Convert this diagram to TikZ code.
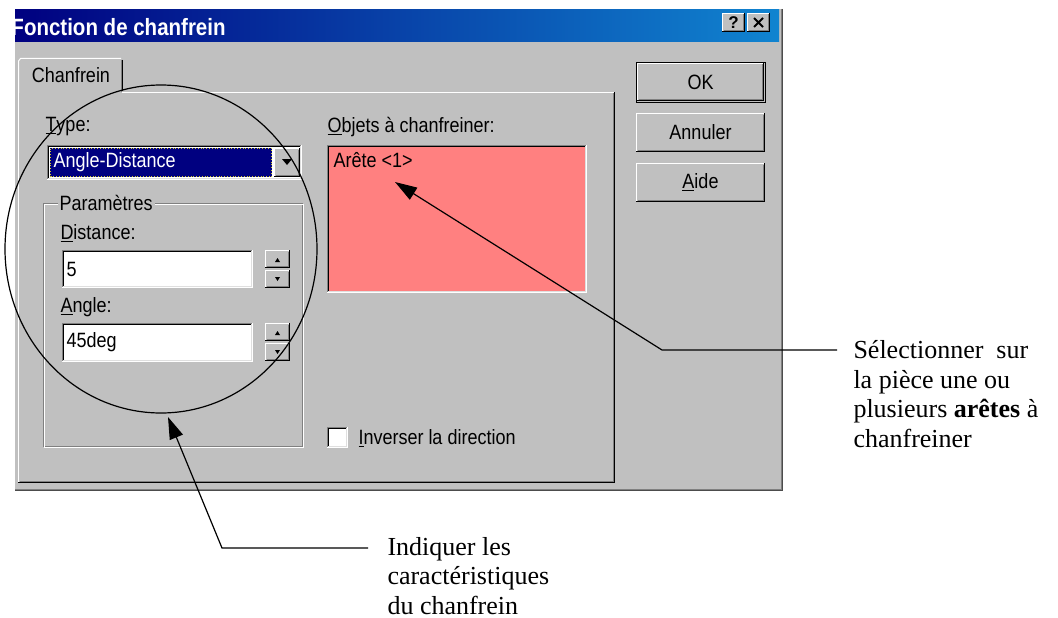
\documentclass[tikz,border=0pt]{standalone}
\usepackage{fontspec}
\setmainfont{Liberation Serif}
\newfontfamily\uifont{Liberation Sans}
\usetikzlibrary{arrows.meta,shapes.geometric}
\definecolor{wgray}{HTML}{C0C0C0}
\definecolor{wdark}{HTML}{808080}
\definecolor{wlite}{HTML}{DFDFDF}
\definecolor{wnavy}{HTML}{000080}
\definecolor{wblue}{HTML}{1084D0}
\definecolor{wpink}{HTML}{FF8080}
\newcommand\wraised[4]{%
  \fill[wgray] (#1,#2) rectangle (#3,#4);
  \draw[white] (#1+0.5,#4-1) -- (#1+0.5,#2+0.5) -- (#3-1,#2+0.5);
  \draw[wdark] (#1+1.5,#4-1.5) -- (#3-1.5,#4-1.5) -- (#3-1.5,#2+1.5);
  \draw[black] (#1,#4-0.5) -- (#3-0.5,#4-0.5) -- (#3-0.5,#2);
}
\newcommand\wsunken[5]{%
  \fill[#5] (#1,#2) rectangle (#3,#4);
  \draw[wdark] (#1+0.5,#4) -- (#1+0.5,#2+0.5) -- (#3,#2+0.5);
  \draw[black] (#1+1.5,#4-1) -- (#1+1.5,#2+1.5) -- (#3-1,#2+1.5);
  \draw[white] (#1,#4-0.5) -- (#3-0.5,#4-0.5) -- (#3-0.5,#2);
  \draw[wlite] (#1+1,#4-1.5) -- (#3-1.5,#4-1.5) -- (#3-1.5,#2+1);
}
\newcommand\ut[1]{\scalebox{1}[1.15]{#1}}
\tikzset{
  ui/.style={font=\uifont\fontsize{18}{21}\selectfont, inner sep=0pt, text=black},
  annot/.style={font=\fontsize{26}{29.5}\selectfont, align=left, inner sep=0pt, anchor=base west},
  pointer/.style={line width=1.2pt, -{Triangle[length=22pt,width=14pt]}},
}
\begin{document}
\begin{tikzpicture}[x=1pt,y=-1pt,line width=1pt]
\useasboundingbox (0,0) rectangle (1058,618);
\fill[white] (0,0) rectangle (1058,618);
% dialog body
\fill[wgray] (15,9) rectangle (783,491);
\draw[wdark] (781.5,9) -- (781.5,489.5) -- (15,489.5);
\draw[black!70] (782.5,9) -- (782.5,490.5) -- (15,490.5);
% title bar
\shade[left color=wnavy, right color=wblue] (15,10) rectangle (779,42);
\begin{scope}
  \clip (15,10) rectangle (779,42);
  \node[anchor=west, inner sep=0pt, text=white, font=\uifont\bfseries\fontsize{20.5}{22}\selectfont] (title) at (11,27) {\ut{Fonction de chanfrein}};
\end{scope}
\wraised{722}{13}{745}{32}
\node[font=\uifont\bfseries\fontsize{17}{18}\selectfont, inner sep=0pt] (help) at (733.5,22.5) {?};
\wraised{747}{13}{770}{32}
\draw[line width=1.8pt] (754,18) -- (763,27) (754,27) -- (763,18);
% tab panel
\wraised{18}{92}{615}{483}
% tab
\fill[wgray] (19,58) rectangle (122,94.5);
\draw[white] (18.5,93) -- (18.5,61) -- (20.5,58.5) -- (121,58.5);
\draw[wdark] (121.5,60) -- (121.5,92);
\draw[black] (122.5,60) -- (122.5,91);
\node[ui] (tab) at (71,75) {\ut{Chanfrein}};
% type combo
\node[ui, anchor=west] (lbltype) at (45,127) {\ut{\underline{T}ype:}};
\wsunken{47}{145}{302}{180}{white}
\fill[wnavy] (50,148) rectangle (272,177);
\draw[yellow!80!black, dotted, line width=0.8pt] (50.5,148.5) rectangle (271.5,176.5);
\node[ui, anchor=west, text=white] (typeval) at (53,162) {\ut{Angle-Distance}};
\wraised{274}{148}{300}{177}
\fill (282,159) -- (292,159) -- (287,165) -- cycle;
% objects list
\node[ui, anchor=west] (lblobj) at (327,127) {\ut{\underline{O}bjets à chanfreiner:}};
\wsunken{327}{145}{587}{293}{wpink}
\node[ui, anchor=west] (arete) at (333,160) {\ut{Arête <1>}};
% group box
\draw[wdark] (43.5,203.5) rectangle (302.5,446.5);
\draw[white] (44.5,204.5) rectangle (303.5,447.5);
\node[ui, anchor=west, fill=wgray, inner xsep=2pt, inner ysep=1pt] (grp) at (57,203) {\ut{Paramètres}};
% distance
\node[ui, anchor=west] (lbldist) at (60,233) {\ut{\underline{D}istance:}};
\wsunken{62}{250}{253}{288}{white}
\node[ui, anchor=west] (distval) at (66,269) {\ut{5}};
\wraised{265}{250}{290}{268}
\wraised{265}{270}{290}{288}
\fill (275,262) -- (280,262) -- (277.5,258) -- cycle;
\fill (275,277) -- (280,277) -- (277.5,281) -- cycle;
% angle
\node[ui, anchor=west] (lblang) at (60,307) {\ut{\underline{A}ngle:}};
\wsunken{62}{323}{253}{362}{white}
\node[ui, anchor=west] (angval) at (66,342) {\ut{45deg}};
\wraised{265}{323}{290}{341}
\wraised{265}{343}{290}{361}
\fill (275,335) -- (280,335) -- (277.5,331) -- cycle;
\fill (275,350) -- (280,350) -- (277.5,354) -- cycle;
% checkbox
\wsunken{327}{427}{348}{448}{white}
\node[ui, anchor=west] (inv) at (358,438) {\ut{\underline{I}nverser la direction}};
% buttons
\draw[black] (636,62.5) rectangle (765,102);
\wraised{637}{63}{764}{101}
\node[ui] (ok) at (700.5,82) {\ut{OK}};
\wraised{636}{113}{765}{152}
\node[ui] (annuler) at (700.5,132.5) {\ut{Annuler}};
\wraised{636}{163}{765}{202}
\node[ui] (aide) at (700.5,182.5) {\ut{\underline{A}ide}};
% highlight ellipse
\node[draw, ellipse, line width=1.2pt, minimum width=312pt, minimum height=328pt, inner sep=0pt] (zone) at (161,249) {};
% annotations (base anchor = last line baseline)
\node[annot] (seltext) at (853,447) {Sélectionner~ sur\\la pièce une ou\\plusieurs \textbf{arêtes} à\\chanfreiner};
\node[annot] (indtext) at (387,614) {Indiquer les\\caractéristiques\\du chanfrein};
\coordinate (selend) at (837,350);
\coordinate (selcorner) at (662,350);
\coordinate (seltip) at (395,182);
\coordinate (indend) at (368,548);
\coordinate (indcorner) at (222,548);
\coordinate (indtip) at (168,417);
\draw[pointer] (selend) -- (selcorner) -- (seltip);
\draw[pointer] (indend) -- (indcorner) -- (indtip);
\end{tikzpicture}
\end{document}
